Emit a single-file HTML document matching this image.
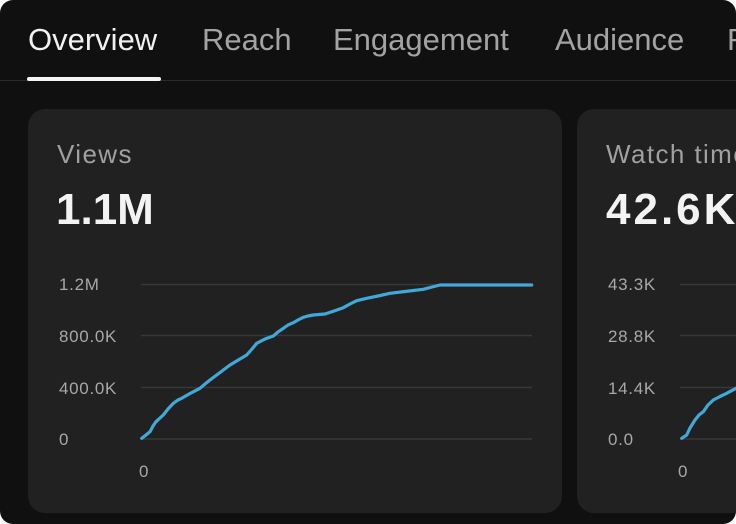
<!DOCTYPE html>
<html><head><meta charset="utf-8"><style>
html,body{margin:0;padding:0;background:#fff;}
body{width:736px;height:524px;overflow:hidden;position:relative;font-family:"Liberation Sans",Arial,sans-serif;}
.frame{position:absolute;left:0;top:0;width:736px;height:524px;background:#101010;border-radius:13px;overflow:hidden;}
.tab{position:absolute;top:22px;font-size:31px;line-height:36px;color:#a3a3a3;white-space:nowrap;}
.tab.active{color:#f1f1f1;}
.sep{position:absolute;left:0;top:80px;width:736px;height:1px;background:#2b2b2b;}
.ul{position:absolute;left:27px;top:77px;width:134px;height:4px;border-radius:2px;background:#f4f4f4;}
.card{position:absolute;top:109px;height:404px;background:#212121;border-radius:17px;}
.title{position:absolute;font-size:26px;line-height:30px;color:#a0a0a0;letter-spacing:1.4px;white-space:nowrap;}
.big{position:absolute;font-size:44px;font-weight:bold;line-height:50px;color:#f3f3f3;white-space:nowrap;}
svg{position:absolute;left:0;top:0;}
</style></head><body>
<div class="frame">
  <div class="tab active" style="left:28px;">Overview</div>
  <div class="tab" style="left:202px;">Reach</div>
  <div class="tab" style="left:333px;">Engagement</div>
  <div class="tab" style="left:555px;">Audience</div>
  <div class="tab" style="left:727px;">R</div>
  <div class="sep"></div>
  <div class="ul"></div>

  <div class="card" style="left:28px;width:534px;"></div>
  <div class="card" style="left:577px;width:200px;"></div>

  <div class="title" style="left:57px;top:139px;">Views</div>
  <div class="big" style="left:56px;top:185px;">1.1M</div>
  <div class="title" style="left:606px;top:139px;">Watch time</div>
  <div class="big" style="left:606px;top:185px;letter-spacing:3px;">42.6K</div>

  <svg width="736" height="524" viewBox="0 0 736 524">
    <g stroke="#383838" stroke-width="1.5">
      <line x1="141" y1="284.5" x2="532" y2="284.5"/>
      <line x1="141" y1="335.5" x2="532" y2="335.5"/>
      <line x1="141" y1="387.5" x2="532" y2="387.5"/>
      <line x1="141" y1="439" x2="532" y2="439"/>
      <line x1="680" y1="284.5" x2="736" y2="284.5"/>
      <line x1="680" y1="335.5" x2="736" y2="335.5"/>
      <line x1="680" y1="387.5" x2="736" y2="387.5"/>
      <line x1="680" y1="439" x2="736" y2="439"/>
    </g>
    <g font-family="Liberation Sans, Arial, sans-serif" font-size="17" fill="#a8a8a8" letter-spacing="0.7">
      <text x="59" y="290">1.2M</text>
      <text x="59" y="342">800.0K</text>
      <text x="59" y="394">400.0K</text>
      <text x="59" y="445">0</text>
      <text x="139" y="477">0</text>
      <text x="608" y="290">43.3K</text>
      <text x="608" y="342">28.8K</text>
      <text x="608" y="394">14.4K</text>
      <text x="608" y="445">0.0</text>
      <text x="678" y="477">0</text>
    </g>
    <polyline fill="none" stroke="#41a8d8" stroke-width="3.2" stroke-linejoin="round" stroke-linecap="round"
      points="141.7,438.3 146,435 150,431.7 153,426 156,421.7 160,418 163.3,415 168,409 173.3,403.3 178,400 181.7,398.3 190,393.5 200,388.3 205,384 210,380 220,372.5 230,365 240,359 246.7,355 252,349 256.7,343.3 265,339 273.3,336 278,332 283.3,328.3 288,325 293.3,322.7 298,320 303.3,317.3 308,316 313.3,315 325,314 334,311 343.3,307.7 350,304 356.7,300.7 366.7,298.3 378,296 390,293.3 405,291.5 423.3,289.3 432,287 440,285 531.7,285"/>
    <polyline fill="none" stroke="#41a8d8" stroke-width="3.2" stroke-linejoin="round" stroke-linecap="round"
      points="681.7,438.3 686.7,435 690,428 695,420 699,415 703.3,411.7 708,405 713.3,400 720,396.5 726.7,393.3 736,388.3 740,386"/>
  </svg>
</div>
</body></html>
